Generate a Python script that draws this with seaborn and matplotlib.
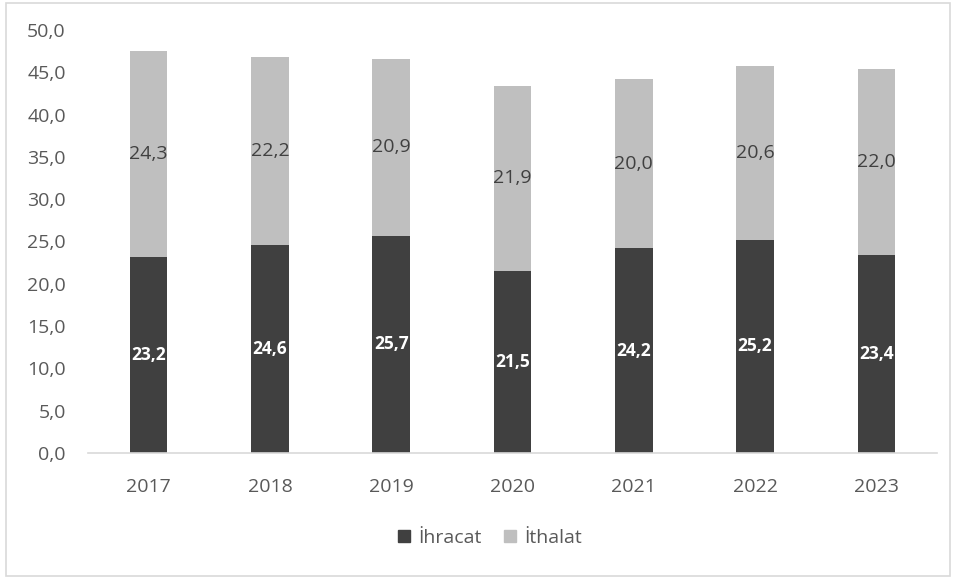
import matplotlib
matplotlib.use("Agg")
import matplotlib.pyplot as plt
import seaborn as sns
import pandas as pd
from matplotlib.patches import Rectangle, Patch

years = ["2017", "2018", "2019", "2020", "2021", "2022", "2023"]
ihracat = [23.2, 24.6, 25.7, 21.5, 24.2, 25.2, 23.4]
ithalat = [24.3, 22.2, 20.9, 21.9, 20.0, 20.6, 22.0]

dark = "#404040"
light = "#bfbfbf"
txt = "#595959"

sns.set_theme(style="white")
plt.rcParams["font.family"] = ["Open Sans", "DejaVu Sans"]

df = pd.DataFrame({"year": years, "ihracat": ihracat, "ithalat": ithalat})
df["total"] = df["ihracat"] + df["ithalat"]

fig = plt.figure(figsize=(9.58, 5.78), dpi=100)
ax = fig.add_axes([88 / 958, 125 / 578, 849 / 958, 423 / 578])

# total first, then exports drawn over it -> stacked look
sns.barplot(data=df, x="year", y="total", color=light, width=0.31,
            saturation=1, ax=ax, linewidth=0)
sns.barplot(data=df, x="year", y="ihracat", color=dark, width=0.31,
            saturation=1, ax=ax, linewidth=0)

for i, (a, b) in enumerate(zip(ihracat, ithalat)):
    ax.text(i, a / 2, f"{a:.1f}".replace(".", ","), ha="center", va="center",
            color="white", fontsize=12.5, fontweight="bold")
    ax.text(i, a + b / 2, f"{b:.1f}".replace(".", ","), ha="center", va="center",
            color=dark, fontsize=14)

ax.set_ylim(0, 50)
ax.set_xlim(-0.5, 6.5)
ax.set_yticks(range(0, 51, 5))
ax.set_yticklabels([f"{v:.1f}".replace(".", ",") for v in range(0, 51, 5)])
ax.tick_params(axis="both", length=0, labelsize=14, labelcolor=txt)
ax.tick_params(axis="y", pad=16)
ax.tick_params(axis="x", pad=18)
ax.set_xlabel("")
ax.set_ylabel("")
for s in ["top", "right", "left"]:
    ax.spines[s].set_visible(False)
ax.spines["bottom"].set_color("#d9d9d9")
ax.spines["bottom"].set_linewidth(1.2)

handles = [Patch(color=dark, label="İhracat"), Patch(color=light, label="İthalat")]
leg = fig.legend(handles=handles, loc="center", bbox_to_anchor=(490 / 958, 1 - 538 / 578),
                 ncol=2, frameon=False, fontsize=14, handlelength=0.6, handleheight=0.6,
                 handletextpad=0.4, columnspacing=1.2)
for t in leg.get_texts():
    t.set_color(txt)

fig.patches.append(Rectangle((6 / 958, 2 / 578), 944 / 958, 573 / 578, transform=fig.transFigure,
                             fill=False, edgecolor="#d9d9d9", linewidth=1.2))

fig.savefig("out.png", dpi=100)
